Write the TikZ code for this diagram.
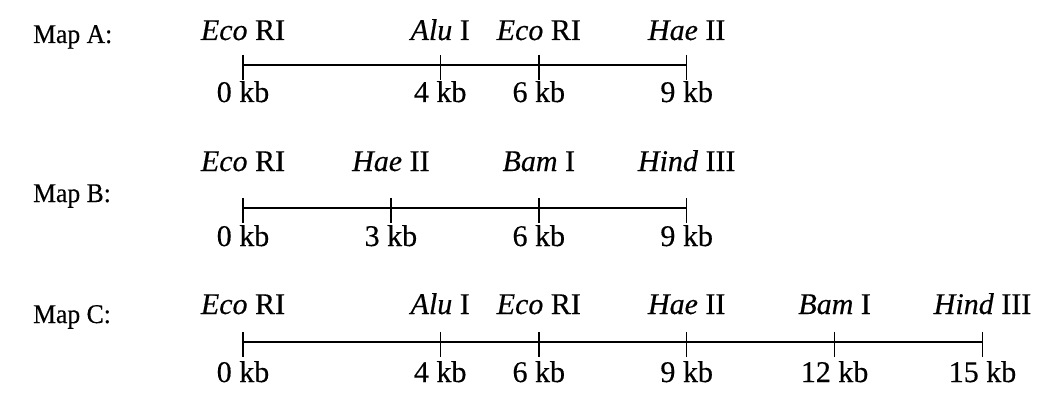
\documentclass[tikz,border=0pt]{standalone}
\usepackage{fontspec}
\setmainfont{Liberation Serif}[FakeBold=0.4]
\newfontfamily\mapfont{Liberation Serif}[FakeStretch=0.95,FakeBold=0.4]
\begin{document}
\begin{tikzpicture}[x=1pt,y=-1pt,
  sitelabel/.style={anchor=base,inner sep=0pt,font=\fontsize{30}{36}\selectfont},
  poslabel/.style={anchor=base,inner sep=0pt,font=\fontsize{30}{36}\selectfont},
  maplabel/.style={anchor=base west,inner sep=0pt,font=\mapfont\fontsize{27}{32}\selectfont},
  mapline/.style={line width=1.7pt},
  sitetick/.style={line width=1.4pt}]
\useasboundingbox (0,0) rectangle (1038,393);

% Map A
\node[maplabel] (mapA) at (33,43) {Map A:};
\foreach \kb/\enz/\num [count=\i] in {0/Eco/RI, 4/Alu/I, 6/Eco/RI, 9/Hae/II} {
  \coordinate (A\i) at ({243+49.3*\kb},65);
  \draw[sitetick] (A\i) ++(0,-10) -- ++(0,25);
  \node[sitelabel] (As\i) at ({243+49.3*\kb},40) {\textit{\enz} \num};
  \node[poslabel] (Ap\i) at ({243+49.3*\kb},102) {\kb\ kb};
}
\draw[mapline] (A1) -- (A4);

% Map B
\node[maplabel] (mapB) at (33,202) {Map B:};
\foreach \kb/\enz/\num [count=\i] in {0/Eco/RI, 3/Hae/II, 6/Bam/I, 9/Hind/III} {
  \coordinate (B\i) at ({243+49.3*\kb},208);
  \draw[sitetick] (B\i) ++(0,-10) -- ++(0,25);
  \node[sitelabel] (Bs\i) at ({243+49.3*\kb},171) {\textit{\enz} \num};
  \node[poslabel] (Bp\i) at ({243+49.3*\kb},246) {\kb\ kb};
}
\draw[mapline] (B1) -- (B4);

% Map C
\node[maplabel] (mapC) at (33,323) {Map C:};
\foreach \kb/\enz/\num [count=\i] in {0/Eco/RI, 4/Alu/I, 6/Eco/RI, 9/Hae/II, 12/Bam/I, 15/Hind/III} {
  \coordinate (C\i) at ({243+49.3*\kb},342);
  \draw[sitetick] (C\i) ++(0,-10) -- ++(0,25);
  \node[sitelabel] (Cs\i) at ({243+49.3*\kb},314) {\textit{\enz} \num};
  \node[poslabel] (Cp\i) at ({243+49.3*\kb},382) {\kb\ kb};
}
\draw[mapline] (C1) -- (C6);
\end{tikzpicture}
\end{document}
